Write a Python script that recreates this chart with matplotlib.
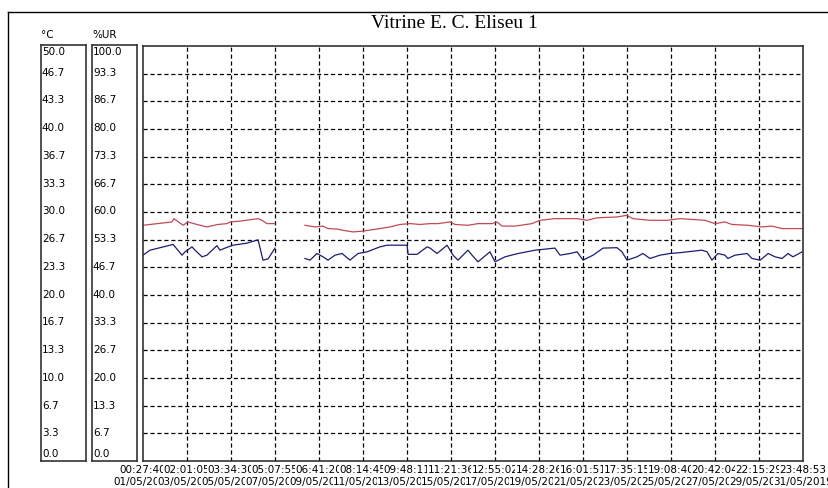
import numpy as np
import matplotlib
matplotlib.use("Agg")
import matplotlib.pyplot as plt
from matplotlib.transforms import blended_transform_factory

plt.rcParams['lines.scale_dashes'] = False

# time in days since 01/05/2019 00:00
temp_days = [0.02, 1.38, 1.47, 1.90, 2.13, 2.55, 3.02, 3.54, 3.96, 4.10, 4.57, 5.42, 5.60, 5.84, 6.21,
             6.9,
             7.62, 8.09, 8.47, 8.70, 9.12, 9.40, 9.87, 10.34, 11.00, 11.61, 12.08, 12.55, 13.02, 13.49,
             13.86, 14.43, 14.66, 15.27, 15.74, 16.40, 16.63, 16.87, 17.48, 18.27, 18.65, 19.35, 19.92,
             20.39, 20.86, 21.33, 22.26, 22.73, 23.01, 23.81, 24.61, 25.22, 26.39, 26.86, 27.33, 27.66,
             28.41, 29.07, 29.54, 30.01, 30.95]
temp_c = [28.4, 28.8, 29.2, 28.4, 28.8, 28.5, 28.2, 28.5, 28.6, 28.8, 28.9, 29.2, 29.0, 28.6, 28.6,
          np.nan,
          28.4, 28.2, 28.3, 28.0, 27.95, 27.8, 27.6, 27.7, 27.95, 28.2, 28.5, 28.6, 28.5, 28.6,
          28.6, 28.8, 28.5, 28.4, 28.6, 28.6, 28.8, 28.3, 28.3, 28.6, 29.0, 29.2, 29.2,
          29.2, 29.0, 29.3, 29.4, 29.6, 29.2, 29.0, 29.0, 29.2, 29.0, 28.6, 28.8, 28.5,
          28.4, 28.2, 28.3, 28.0, 28.0]

hum_days = [0.02, 0.35, 0.82, 1.29, 1.43, 1.85, 1.99, 2.32, 2.46, 2.79, 3.02, 3.49, 3.63, 3.87, 4.24,
            4.90, 5.42, 5.65, 5.89, 6.21,
            6.9,
            7.62, 7.86, 8.18, 8.47, 8.70, 9.03, 9.36, 9.73, 10.11, 10.53, 11.14, 11.47, 12.41, 12.46,
            12.88, 13.35, 13.49, 13.82, 14.29, 14.57, 14.80, 15.27, 15.46, 15.74, 16.30, 16.54, 17.01,
            17.62, 18.42, 19.35, 19.59, 20.06, 20.39, 20.67, 21.14, 21.61, 22.26, 22.50, 22.73, 23.20,
            23.48, 23.81, 24.28, 24.75, 25.22, 26.25, 26.49, 26.72, 27.00, 27.33, 27.47, 27.80, 28.37,
            28.60, 28.98, 29.36, 29.68, 30.01, 30.29, 30.52, 30.95]
hum_ur = [49.6, 50.8, 51.4, 52.0, 52.2, 49.6, 50.4, 51.6, 50.8, 49.2, 49.6, 51.9, 50.8, 51.3, 52.0,
          52.5, 53.3, 48.4, 48.7, 51.3,
          np.nan,
          48.8, 48.4, 50.0, 49.2, 48.4, 49.6, 50.0, 48.4, 50.0, 50.4, 51.6, 52.0, 52.0, 49.8,
          49.8, 51.6, 51.3, 50.0, 52.0, 49.6, 48.4, 50.8, 49.6, 48.0, 50.4, 48.0, 49.2,
          50.0, 50.8, 51.3, 49.6, 50.0, 50.4, 48.4, 49.6, 51.3, 51.4, 50.4, 48.4, 49.2,
          50.0, 48.8, 49.6, 50.0, 50.2, 50.8, 50.4, 48.4, 50.0, 49.6, 48.8, 49.6, 50.0,
          48.8, 48.4, 50.0, 49.2, 48.8, 50.0, 49.2, 50.4]

t_start = 0 + (27 * 60 + 40) / 86400
t_end = 30 + (23 * 3600 + 48 * 60 + 53) / 86400

time_labels = ["00:27:40", "02:01:05", "03:34:30", "05:07:55", "06:41:20", "08:14:45",
               "09:48:11", "11:21:36", "12:55:02", "14:28:26", "16:01:51", "17:35:15",
               "19:08:40", "20:42:04", "22:15:29", "23:48:53"]
date_labels = ["%02d/05/2019" % d for d in range(1, 32, 2)]
c_labels = ["0.0", "3.3", "6.7", "10.0", "13.3", "16.7", "20.0", "23.3", "26.7",
            "30.0", "33.3", "36.7", "40.0", "43.3", "46.7", "50.0"]
ur_labels = ["0.0", "6.7", "13.3", "20.0", "26.7", "33.3", "40.0", "46.7", "53.3",
             "60.0", "66.7", "73.3", "80.0", "86.7", "93.3", "100.0"]

W, H = 829, 488
fig = plt.figure(figsize=(W / 100, H / 100), dpi=100)


def box(x0, y0, x1, y1):
    return [x0 / W, 1 - y1 / H, (x1 - x0) / W, (y1 - y0) / H]


# outer frame (left and top edges only visible)
fig.add_artist(plt.Line2D([8 / W, 8 / W], [0, 1 - 12 / H], color='black', lw=1))
fig.add_artist(plt.Line2D([8 / W, 1], [1 - 12 / H, 1 - 12 / H], color='black', lw=1))

fig.text(454 / W, 1 - 23 / H, "Vitrine E. C. Eliseu 1", family='Liberation Serif',
         fontsize=14, ha='center', va='center')

small = dict(family='DejaVu Sans', fontsize=7.5)

fig.text(41 / W, 1 - 35 / H, "°C", ha='left', va='center', **small)
fig.text(92 / W, 1 - 35 / H, "%UR", ha='left', va='center', **small)

yfrac = np.linspace(0, 1, 16)
for (x0, x1, labels) in [(41, 86, c_labels), (92, 137, ur_labels)]:
    a = fig.add_axes(box(x0, 45, x1, 461))
    a.set_xticks([])
    a.set_yticks([])
    for s in a.spines.values():
        s.set_linewidth(1.2)
        s.set_color('#333333')
    for i, (f, lab) in enumerate(zip(yfrac, labels)):
        if i == 0:
            va, f = 'bottom', 0.005
        elif i == 15:
            va, f = 'top', 0.995
        else:
            va = 'center'
        a.text(0.02, f, lab, transform=a.transAxes, ha='left', va=va, **small)

ax = fig.add_axes(box(143, 46, 803, 461))
ax.plot(temp_days, temp_c, color='#c24a56', lw=0.9)
ax.plot(hum_days, np.array(hum_ur) / 2, color='#1c1c78', lw=0.9)
ax.set_xlim(t_start, t_end)
ax.set_ylim(0, 50)
xt = np.linspace(t_start, t_end, 16)
ax.set_xticks(xt[1:-1])
ax.set_yticks(np.linspace(0, 50, 16)[1:-1])
ax.tick_params(length=0, labelbottom=False, labelleft=False)
ax.grid(True, color='black', lw=0.9, linestyle=(0, (3, 2)))
for s in ax.spines.values():
    s.set_linewidth(1.2)
    s.set_color('#333333')

trans = blended_transform_factory(ax.transData, fig.transFigure)
for i, (x, tl, dl) in enumerate(zip(xt, time_labels, date_labels)):
    ax.text(x, 1 - 470 / H, tl, transform=trans, ha='center', va='center', clip_on=False,
            zorder=10 + i, bbox=dict(facecolor='white', edgecolor='none', pad=0.3), **small)
    ax.text(x, 1 - 482 / H, dl, transform=trans, ha='center', va='center', clip_on=False,
            zorder=10 + i, bbox=dict(facecolor='white', edgecolor='none', pad=0.3), **small)

fig.savefig("out.png", dpi=100)
